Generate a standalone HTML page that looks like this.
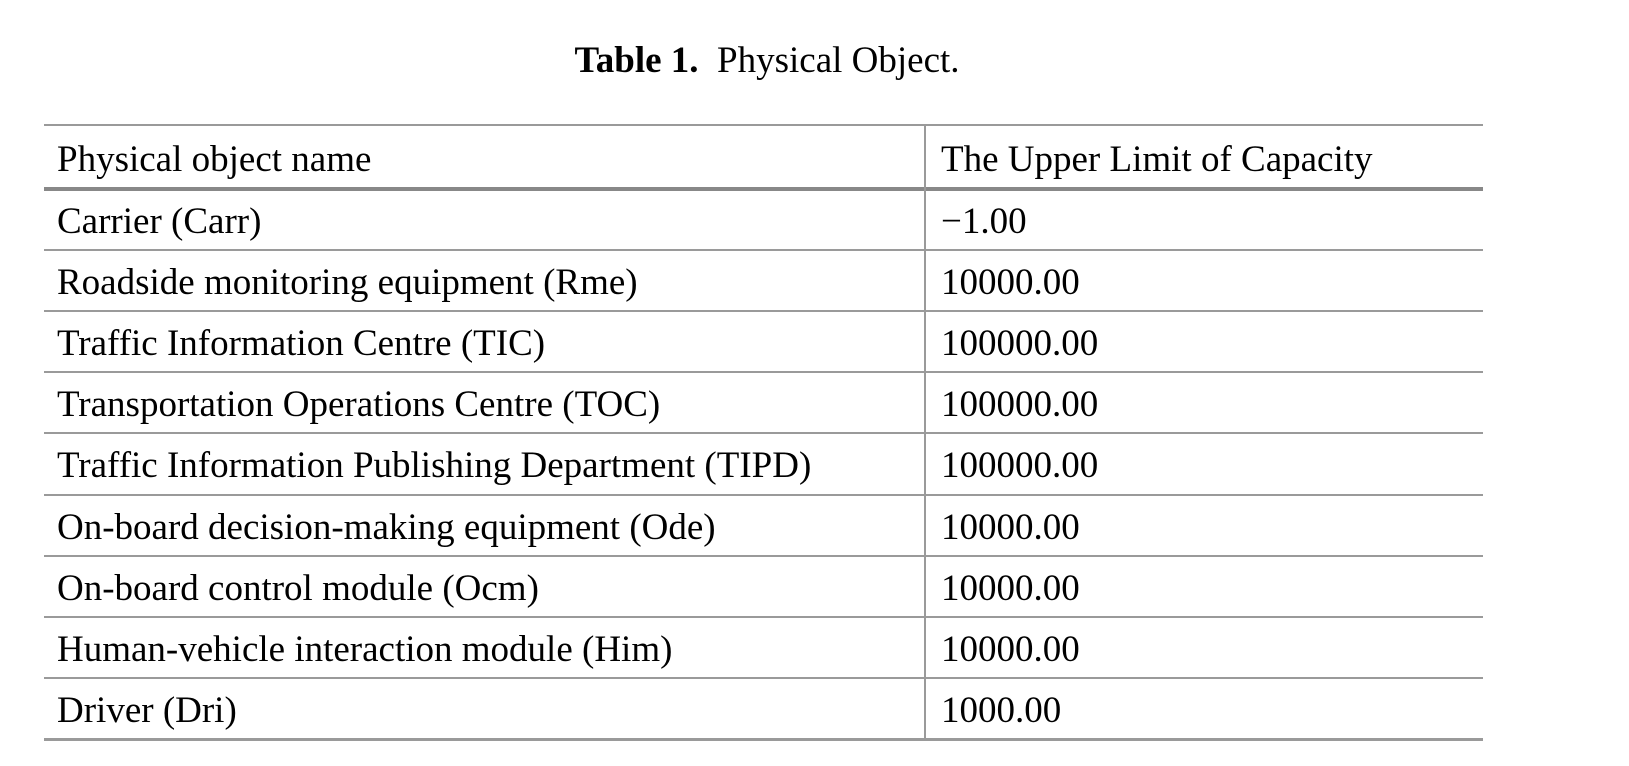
<!DOCTYPE html>
<html><head><meta charset="utf-8"><style>
body{margin:0;width:1629px;height:766px;background:#fff;position:relative;overflow:hidden;font-family:"Liberation Serif",serif;color:#000}
.title{position:absolute;top:39px;left:0;width:1534px;text-align:center;font-size:37px;line-height:44px}
.h{position:absolute;left:44px;width:1439px;background:#9a9a9a}
.v{position:absolute;left:924px;width:2px;background:#9a9a9a;top:125px;height:615px}
.c{position:absolute;font-size:37px;line-height:40px;white-space:nowrap}
</style></head><body>
<div class="title"><b>Table 1.</b>&nbsp; Physical Object.</div>
<div class="h" style="top:124px;height:2px"></div>
<div class="h" style="top:187px;height:4px;background:#888"></div>
<div class="h" style="top:738px;height:3px"></div>
<div class="v"></div>
<div class="c" style="left:57px;top:140px">Physical object name</div>
<div class="c" style="left:941px;top:140px">The Upper Limit of Capacity</div>
<div id="rows"></div>
<script>
const names=["Carrier (Carr)","Roadside monitoring equipment (Rme)","Traffic Information Centre (TIC)","Transportation Operations Centre (TOC)","Traffic Information Publishing Department (TIPD)","On-board decision-making equipment (Ode)","On-board control module (Ocm)","Human-vehicle interaction module (Him)","Driver (Dri)"];
const caps=["\u22121.00","10000.00","100000.00","100000.00","100000.00","10000.00","10000.00","10000.00","1000.00"];
const rows=document.getElementById('rows');
const y0=189,rh=61.1;
names.forEach((n,i)=>{
  const top=y0+i*rh;
  if(i>0){const l=document.createElement('div');l.className='h';l.style.top=(top-1)+'px';l.style.height='2px';
  
  
  rows.appendChild(l);}
  const a=document.createElement('div');a.className='c';a.style.left='57px';a.style.top=(top+13)+'px';a.textContent=n;
  
  
  rows.appendChild(a);
  const b=document.createElement('div');b.className='c';b.style.left='941px';b.style.top=(top+13)+'px';b.textContent=caps[i];
  
  
  rows.appendChild(b);
});
</script>
</body></html>
